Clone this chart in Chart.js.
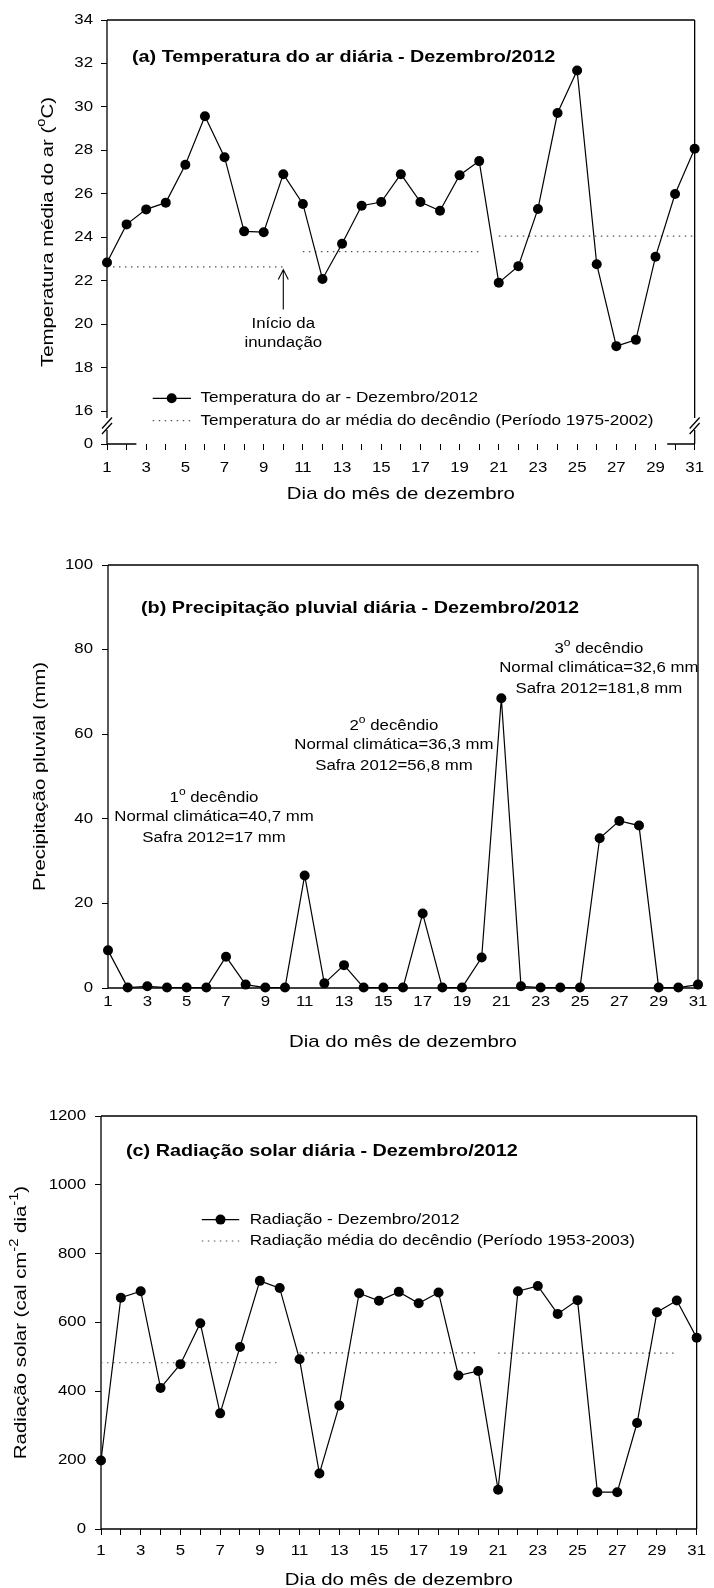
<!DOCTYPE html>
<html>
<head>
<meta charset="utf-8">
<script src="https://cdn.jsdelivr.net/npm/chart.js@4.4.1/dist/chart.umd.min.js"></script>
<style>
html,body{margin:0;padding:0;background:#fff;}
body{width:714px;height:1588px;position:relative;overflow:hidden;}
.wrap{position:absolute;left:0;width:714px;}
canvas{display:block;}
</style>
</head>
<body>
<div class="wrap" style="top:0;height:530px"><canvas id="ca" width="714" height="530"></canvas></div>
<div class="wrap" style="top:530px;height:530px"><canvas id="cb" width="714" height="530"></canvas></div>
<div class="wrap" style="top:1060px;height:528px"><canvas id="cc" width="714" height="528"></canvas></div>
<script>
// ---------------- DATA ----------------
const days = [1,2,3,4,5,6,7,8,9,10,11,12,13,14,15,16,17,18,19,20,21,22,23,24,25,26,27,28,29,30,31];
const dayTickLabels = [1,3,5,7,9,11,13,15,17,19,21,23,25,27,29,31];

const temperature = [22.85,24.6,25.29,25.6,27.34,29.57,27.69,24.28,24.24,26.91,25.54,22.09,23.71,25.46,25.63,26.91,25.63,25.23,26.86,27.51,21.92,22.68,25.31,29.72,31.68,22.77,19.0,19.29,23.11,26.0,28.08];
const tempDecStart = [1,11,21];
const tempDecEnd = [10,20,31];
const tempDecMean = [22.65,23.35,24.06];
const tempTicks = [16,18,20,22,24,26,28,30,32,34];
const tempBreakValue = 14.5;   // position of the "0" label below the axis break
const tempBreakLabel = '0';
const floodDay = 10;           // "Início da inundação"

const precipitation = [8.9,0.1,0.4,0.1,0.1,0.1,7.4,0.8,0.1,0.1,26.6,1.1,5.4,0.1,0.1,0.1,17.6,0.1,0.1,7.2,68.5,0.4,0.1,0.1,0.1,35.4,39.5,38.4,0.1,0.1,0.8];
const precipTicks = [0,20,40,60,80,100];
const decNames = ['1','2','3'];
const decNormal = ['40,7','36,3','32,6'];
const decSafra = ['17','56,8','181,8'];

const radiation = [199,672,691,410,479,598,336,529,721,700,493,161,359,685,663,689,656,687,446,459,114,691,706,625,665,107,107,308,630,664,556];
const radDecStart = [1,11,21];
const radDecEnd = [10,20,30];
const radDecMean = [483,512,511];
const radTicks = [0,200,400,600,800,1000,1200];

// ---------------- STYLE ----------------
const FONT = "'Liberation Sans', Arial, Helvetica, sans-serif";
const SX = 1.2; // horizontal text stretch seen in the original figure
function fnt(size, bold){ return (bold ? 'bold ' : '') + size + 'px ' + FONT; }

function stretchContext(canvas){
  const ctx = canvas.getContext('2d');
  const f = ctx.fillText.bind(ctx);
  const m = ctx.measureText.bind(ctx);
  ctx.fillText = function(t, x, y, mw){
    ctx.save(); ctx.translate(x, y); ctx.scale(SX, 1);
    if (mw === undefined || mw === null) f(t, 0, 0); else f(t, 0, 0, mw / SX);
    ctx.restore();
  };
  ctx.measureText = function(t){
    const r = m(t);
    return {width: r.width * SX, actualBoundingBoxAscent: r.actualBoundingBoxAscent,
      actualBoundingBoxDescent: r.actualBoundingBoxDescent,
      actualBoundingBoxLeft: r.actualBoundingBoxLeft * SX, actualBoundingBoxRight: r.actualBoundingBoxRight * SX};
  };
  return ctx;
}

function richWidth(ctx, segs, size, bold){
  let w = 0;
  for (const s of segs){ ctx.font = fnt(s.sup ? size*0.72 : size, bold); w += ctx.measureText(s.t).width; }
  return w;
}
function drawRich(ctx, segs, x, yCenter, size, align, bold){
  const w = richWidth(ctx, segs, size, bold);
  let cx = align === 'center' ? x - w/2 : (align === 'right' ? x - w : x);
  const base = yCenter + size*0.35;
  ctx.textAlign = 'left'; ctx.textBaseline = 'alphabetic';
  for (const s of segs){
    ctx.font = fnt(s.sup ? size*0.72 : size, bold);
    ctx.fillText(s.t, cx, s.sup ? base - size*0.48 : base);
    cx += ctx.measureText(s.t).width;
  }
}
function drawText(ctx, t, x, y, size, align, bold){
  ctx.font = fnt(size, bold); ctx.textAlign = align; ctx.textBaseline = 'middle';
  ctx.fillText(t, x, y);
}
function drawRotRich(ctx, segs, x, y, size){
  ctx.save(); ctx.translate(x, y); ctx.rotate(-Math.PI/2);
  drawRich(ctx, segs, 0, 0, size, 'center', false);
  ctx.restore();
}
function dotted(ctx, x1, x2, y){
  ctx.save(); ctx.strokeStyle = '#555'; ctx.lineWidth = 1.2; ctx.setLineDash([1.5,4.5]);
  ctx.beginPath(); ctx.moveTo(x1, y); ctx.lineTo(x2, y); ctx.stroke(); ctx.restore();
}
function markerSample(ctx, x1, x2, xm, y){
  ctx.save(); ctx.strokeStyle = '#000'; ctx.lineWidth = 1.2; ctx.setLineDash([]);
  ctx.beginPath(); ctx.moveTo(x1, y); ctx.lineTo(x2, y); ctx.stroke();
  ctx.fillStyle = '#000'; ctx.beginPath(); ctx.arc(xm, y, 5, 0, Math.PI*2); ctx.fill(); ctx.restore();
}

function mainSeries(values){
  return {data: days.map((d,i)=>({x:d, y:values[i]})), borderColor:'#000', borderWidth:1.2,
    pointRadius:5, pointBackgroundColor:'#000', pointBorderColor:'#000', pointBorderWidth:0,
    tension:0, clip:false, order:0};
}
function decSeries(starts, ends, means){
  return starts.map((s,i)=>({data:[{x:s, y:means[i]},{x:ends[i], y:means[i]}], borderColor:'#555',
    borderWidth:1.2, borderDash:[1.5,4.5], pointRadius:0, tension:0, clip:false, order:1}));
}

function framePlugin(o){
  return {id:'frame', beforeDatasetsDraw(chart){
    const {ctx, chartArea:a, scales} = chart;
    ctx.save(); ctx.strokeStyle = '#000'; ctx.lineWidth = 1.3; ctx.setLineDash([]);
    ctx.beginPath();
    ctx.moveTo(a.left, a.top); ctx.lineTo(a.right, a.top);
    if (o.yBreak){
      const g1 = a.bottom - 26, g2 = a.bottom - 14;
      for (const x of [a.left, a.right]){
        ctx.moveTo(x, a.top); ctx.lineTo(x, g1);
        ctx.moveTo(x, g2); ctx.lineTo(x, a.bottom);
        for (const yc of [a.bottom - 21, a.bottom - 15.5]){
          ctx.moveTo(x - 5, yc + 5.5); ctx.lineTo(x + 5, yc - 5.5);
        }
      }
    } else {
      ctx.moveTo(a.left, a.top); ctx.lineTo(a.left, a.bottom);
      ctx.moveTo(a.right, a.top); ctx.lineTo(a.right, a.bottom);
    }
    if (o.bottomGap){
      const gx1 = scales.x.getPixelForValue(o.bottomGap[0]);
      const gx2 = scales.x.getPixelForValue(o.bottomGap[1]);
      ctx.moveTo(a.left, a.bottom); ctx.lineTo(gx1, a.bottom);
      ctx.moveTo(gx2, a.bottom); ctx.lineTo(a.right, a.bottom);
    } else {
      ctx.moveTo(a.left, a.bottom); ctx.lineTo(a.right, a.bottom);
    }
    ctx.stroke(); ctx.restore();
  }};
}

function makeOptions(c){
  const tickFont = {family: FONT, size: 14};
  return {
    responsive:false, animation:false, events:[],
    layout:{padding:{left:0, right:714 - c.right, top:c.top, bottom:0}},
    plugins:{legend:{display:false}, tooltip:{enabled:false}},
    scales:{
      x:{type:'linear', min:1, max:31,
        afterFit:(s)=>{ s.height = c.h - c.bottom; },
        border:{display:false},
        grid:{display:c.xTicks, drawOnChartArea:false, drawTicks:c.xTicks, tickLength:6, color:'#000', lineWidth:1},
        ticks:{stepSize:1, autoSkip:false, maxRotation:0, minRotation:0, padding:c.xPad, color:'#000', font:tickFont,
          callback:(v)=> dayTickLabels.includes(v) ? String(v) : ''}},
      y:{type:'linear', min:c.ymin, max:c.ymax,
        afterFit:(s)=>{ s.width = c.left; },
        afterBuildTicks:(s)=>{ s.ticks = c.yTicks.map(v=>({value:v})); },
        border:{display:false},
        grid:{display:true, drawOnChartArea:false, drawTicks:true, tickLength:6, color:'#000', lineWidth:1},
        ticks:{padding:c.yPad, color:'#000', font:tickFont, callback:c.yLabel}}
    }
  };
}

const xTitle = [{t:'Dia do mês de dezembro'}];
const LEG = 14.3;

// ---------------- CHART A ----------------
(function(){
  const c = {top:20, bottom:444, left:107, right:698, h:530, xTicks:true, xPad:10, yPad:8,
    ymin:tempBreakValue, ymax:34, yTicks:[tempBreakValue].concat(tempTicks),
    yLabel:(v)=> v === tempBreakValue ? tempBreakLabel : String(v)};
  const ctx = stretchContext(document.getElementById('ca'));
  const textPlugin = {id:'txt', afterDraw(chart){
    const {ctx, chartArea:a, scales:{x, y}} = chart;
    ctx.save(); ctx.fillStyle = '#000';
    drawText(ctx, '(a) Temperatura do ar diária - Dezembro/2012', a.left + 25, a.top + 37, 16.5, 'left', true);
    const ax = x.getPixelForValue(floodDay), tipY = y.getPixelForValue(22.52), tailY = y.getPixelForValue(20.68);
    ctx.strokeStyle = '#000'; ctx.lineWidth = 1.1; ctx.beginPath();
    ctx.moveTo(ax, tailY); ctx.lineTo(ax, tipY);
    ctx.moveTo(ax - 5, tipY + 10); ctx.lineTo(ax, tipY); ctx.lineTo(ax + 5, tipY + 10); ctx.stroke();
    drawText(ctx, 'Início da', ax, tailY + 15, 14, 'center', false);
    drawText(ctx, 'inundação', ax, tailY + 34, 14, 'center', false);
    const r1 = a.bottom - 45.7, r2 = a.bottom - 23.3;
    markerSample(ctx, a.left + 45.7, a.left + 84, a.left + 64.7, r1);
    dotted(ctx, a.left + 45.7, a.left + 84, r2);
    ctx.fillStyle = '#000';
    drawText(ctx, 'Temperatura do ar - Dezembro/2012', a.left + 93.5, r1, LEG, 'left', false);
    drawText(ctx, 'Temperatura do ar média do decêndio (Período 1975-2002)', a.left + 93.5, r2, LEG, 'left', false);
    drawRotRich(ctx, [{t:'Temperatura média do ar ('},{t:'o',sup:true},{t:'C)'}], 47, (a.top + a.bottom)/2, 17);
    drawRich(ctx, xTitle, (a.left + a.right)/2, a.bottom + 55 - 17*0.35, 17, 'center', false);
    ctx.restore();
  }};
  new Chart(ctx, {type:'line', data:{datasets:[mainSeries(temperature)].concat(decSeries(tempDecStart, tempDecEnd, tempDecMean))},
    options:makeOptions(c), plugins:[framePlugin({yBreak:true, bottomGap:[2.5, 29.6]}), textPlugin]});
})();

// ---------------- CHART B ----------------
(function(){
  const c = {top:35, bottom:458, left:108, right:698, h:530, xTicks:false, xPad:6, yPad:9,
    ymin:0, ymax:100, yTicks:precipTicks, yLabel:(v)=>String(v)};
  const ctx = stretchContext(document.getElementById('cb'));
  const notes = [{day:6.39, value:45.2}, {day:15.54, value:62.2}, {day:25.96, value:80.4}];
  const textPlugin = {id:'txt', afterDraw(chart){
    const {ctx, chartArea:a, scales:{x, y}} = chart;
    ctx.save(); ctx.fillStyle = '#000';
    drawText(ctx, '(b) Precipitação pluvial diária - Dezembro/2012', a.left + 33, a.top + 43, 16.5, 'left', true);
    notes.forEach((n, i)=>{
      const px = x.getPixelForValue(n.day), py = y.getPixelForValue(n.value);
      drawRich(ctx, [{t:decNames[i]},{t:'o',sup:true},{t:' decêndio'}], px, py, 14, 'center', false);
      drawText(ctx, 'Normal climática=' + decNormal[i] + ' mm', px, py + 20.5, 14, 'center', false);
      drawText(ctx, 'Safra 2012=' + decSafra[i] + ' mm', px, py + 41, 14, 'center', false);
    });
    drawRotRich(ctx, [{t:'Precipitação pluvial (mm)'}], 39, (a.top + a.bottom)/2, 17);
    drawRich(ctx, xTitle, (a.left + a.right)/2, a.bottom + 58.5 - 17*0.35, 17, 'center', false);
    ctx.restore();
  }};
  new Chart(ctx, {type:'line', data:{datasets:[mainSeries(precipitation)]},
    options:makeOptions(c), plugins:[framePlugin({}), textPlugin]});
})();

// ---------------- CHART C ----------------
(function(){
  const c = {top:56, bottom:469, left:101, right:698, h:528, xTicks:true, xPad:8, yPad:9,
    ymin:0, ymax:1200, yTicks:radTicks, yLabel:(v)=>String(v)};
  const ctx = stretchContext(document.getElementById('cc'));
  const textPlugin = {id:'txt', afterDraw(chart){
    const {ctx, chartArea:a} = chart;
    ctx.save(); ctx.fillStyle = '#000';
    drawText(ctx, '(c) Radiação solar diária - Dezembro/2012', a.left + 25, a.top + 35.5, 16.5, 'left', true);
    const r1 = a.top + 103.6, r2 = a.top + 125;
    markerSample(ctx, a.left + 100.8, a.left + 138.2, a.left + 119.5, r1);
    dotted(ctx, a.left + 100.8, a.left + 138.2, r2);
    ctx.fillStyle = '#000';
    drawText(ctx, 'Radiação - Dezembro/2012', a.left + 148.7, r1, LEG, 'left', false);
    drawText(ctx, 'Radiação média do decêndio (Período 1953-2003)', a.left + 148.7, r2, LEG, 'left', false);
    drawRotRich(ctx, [{t:'Radiação solar (cal cm'},{t:'-2',sup:true},{t:' dia'},{t:'-1',sup:true},{t:')'}], 20, (a.top + a.bottom)/2, 17);
    drawRich(ctx, xTitle, (a.left + a.right)/2, a.bottom + 56 - 17*0.35, 17, 'center', false);
    ctx.restore();
  }};
  new Chart(ctx, {type:'line', data:{datasets:[mainSeries(radiation)].concat(decSeries(radDecStart, radDecEnd, radDecMean))},
    options:makeOptions(c), plugins:[framePlugin({}), textPlugin]});
})();
</script>
</body>
</html>
